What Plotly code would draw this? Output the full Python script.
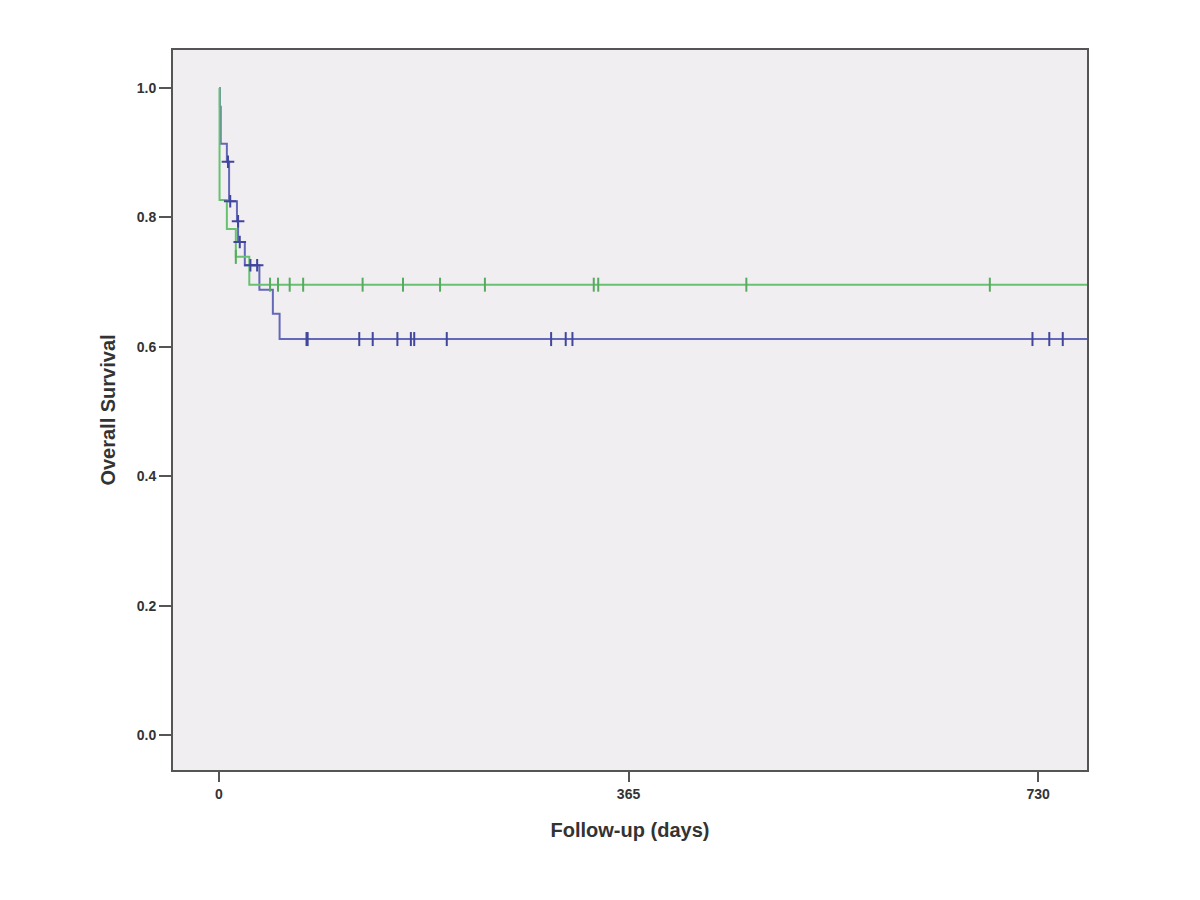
import plotly.graph_objects as go

# Kaplan-Meier step data (days, survival)
blue_times = [0, 0.8, 1.5, 7, 9, 16, 17, 23, 36, 48, 54, 780]
blue_surv = [1.0, 0.971, 0.914, 0.886, 0.825, 0.794, 0.762, 0.726, 0.688, 0.651, 0.612, 0.612]

green_times = [0, 0.5, 7, 15, 27, 780]
green_surv = [1.0, 0.827, 0.782, 0.739, 0.696, 0.696]

# Censor marks
blue_early_cens_t = [8, 10, 17, 18.5, 28, 34]
blue_early_cens_s = [0.886, 0.825, 0.794, 0.762, 0.726, 0.726]
blue_cens_t = [78, 79, 125, 137, 159, 171, 174, 203, 296, 309, 315, 725, 740, 752]
blue_cens_s = [0.612] * len(blue_cens_t)

green_cens_t = [15, 45.5, 52.6, 63, 75, 128, 164, 197, 237, 334, 338, 470, 687]
green_cens_s = [0.739] + [0.696] * 12

x_ticks = [0, 365, 730]
y_ticks = [0.0, 0.2, 0.4, 0.6, 0.8, 1.0]

GREEN = "#66c270"
BLUE = "#6468b8"

fig = go.Figure()
fig.add_trace(go.Scatter(x=blue_times, y=blue_surv, mode="lines",
                         line=dict(color=BLUE, width=2, shape="hv"), showlegend=False))
fig.add_trace(go.Scatter(x=green_times, y=green_surv, mode="lines",
                         line=dict(color=GREEN, width=2, shape="hv"), showlegend=False))
fig.add_trace(go.Scatter(x=green_cens_t, y=green_cens_s, mode="markers",
                         marker=dict(symbol="line-ns", size=10, line=dict(color="#58aa60", width=2)),
                         showlegend=False))
fig.add_trace(go.Scatter(x=blue_cens_t, y=blue_cens_s, mode="markers",
                         marker=dict(symbol="line-ns", size=10, line=dict(color="#40469c", width=2)),
                         showlegend=False))
fig.add_trace(go.Scatter(x=blue_early_cens_t, y=blue_early_cens_s, mode="markers",
                         marker=dict(symbol="cross-thin", size=9, line=dict(color="#40469c", width=2)),
                         showlegend=False))

fig.update_layout(
    width=1200, height=900,
    margin=dict(l=165, r=121, t=42, b=138),
    paper_bgcolor="white",
    plot_bgcolor="#f0eef0",
    font=dict(family="Liberation Sans, Arial, sans-serif", color="#333333"),
)
fig.update_xaxes(
    range=[-41, 773.6], tickvals=x_ticks, ticktext=[f"<b>{v}</b>" for v in x_ticks],
    showgrid=False, zeroline=False,
    showline=True, linecolor="#555555", linewidth=2, mirror=True,
    ticks="outside", ticklen=10, tickwidth=1.5, tickcolor="#555555",
    tickfont=dict(size=14, family="Liberation Sans Narrow, Liberation Sans, Arial", color="#333333"),
    title=dict(text="<b>Follow-up (days)</b>", font=dict(size=20, color="#333333"), standoff=22),
)
fig.update_yaxes(
    range=[-0.054, 1.0587], tickvals=y_ticks, ticktext=[f"<b>{v:.1f}</b>" for v in y_ticks],
    showgrid=False, zeroline=False,
    showline=True, linecolor="#555555", linewidth=2, mirror=True,
    ticks="outside", ticklen=12, tickwidth=1.5, tickcolor="#555555",
    tickfont=dict(size=14, color="#333333"),
    title=dict(text="<b>Overall Survival</b>", font=dict(size=20, color="#333333"), standoff=16),
)

fig.write_html("out.html")
